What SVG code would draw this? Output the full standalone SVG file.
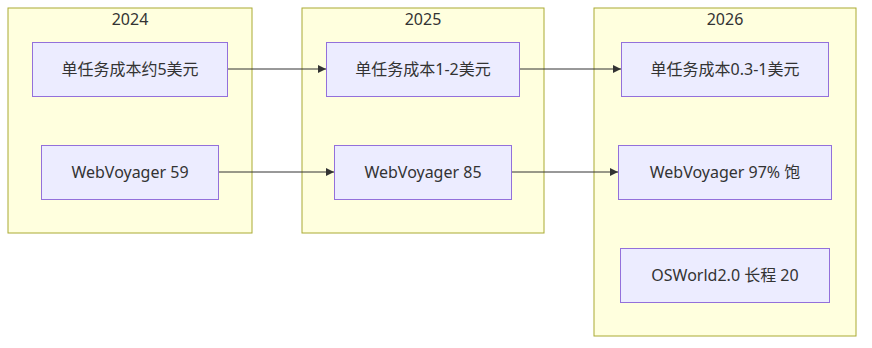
<svg xmlns="http://www.w3.org/2000/svg" width="872" height="348" viewBox="0 0 872 348">
<style>
.cluster{fill:#ffffde;stroke:#aaaa33;stroke-width:1}
.node rect{fill:#ececff;stroke:#9370db;stroke-width:1}
text{font-family:"Noto Sans","Noto Sans CJK SC",sans-serif;font-size:16px;fill:#333;text-anchor:middle;dominant-baseline:central}
.edge{stroke:#333;stroke-width:1;fill:none;marker-end:url(#arr)}
</style>
<defs>
<marker id="arr" viewBox="0 0 10 10" refX="10" refY="5" markerWidth="8" markerHeight="8" markerUnits="userSpaceOnUse" orient="auto">
<path d="M0,0 L10,5 L0,10 z" fill="#333"/>
</marker>
</defs>
<g id="c2024"><rect class="cluster" x="8" y="8" width="244" height="225"/><text x="130" y="19">2024</text></g>
<g id="c2025"><rect class="cluster" x="302" y="8" width="242" height="225"/><text x="423" y="19">2025</text></g>
<g id="c2026"><rect class="cluster" x="594" y="8" width="262" height="328"/><text x="725" y="19">2026</text></g>
<g id="connectors">
<path class="edge" d="M227.5,69 H326"/>
<path class="edge" d="M218.5,172 H334"/>
<path class="edge" d="M519.5,69 H621"/>
<path class="edge" d="M511.5,172 H618"/>
</g>
<g id="a1" class="node"><rect x="32.5" y="42.5" width="195" height="54"/><text x="130" y="69">单任务成本约5美元</text></g>
<g id="a2" class="node"><rect x="41.5" y="145.5" width="177" height="54"/><text x="130" y="172">WebVoyager 59</text></g>
<g id="b1" class="node"><rect x="326.5" y="42.5" width="193" height="54"/><text x="423" y="69">单任务成本1-2美元</text></g>
<g id="b2" class="node"><rect x="334.5" y="145.5" width="177" height="54"/><text x="423" y="172">WebVoyager 85</text></g>
<g id="c1" class="node"><rect x="621.5" y="42.5" width="207" height="54"/><text x="725" y="69">单任务成本0.3-1美元</text></g>
<g id="c2" class="node"><rect x="618.5" y="145.5" width="213" height="54"/><text x="725" y="172">WebVoyager 97% 饱</text></g>
<g id="c3" class="node"><rect x="620.5" y="248.5" width="209" height="54"/><text x="725" y="275">OSWorld2.0 长程 20</text></g>
</svg>
